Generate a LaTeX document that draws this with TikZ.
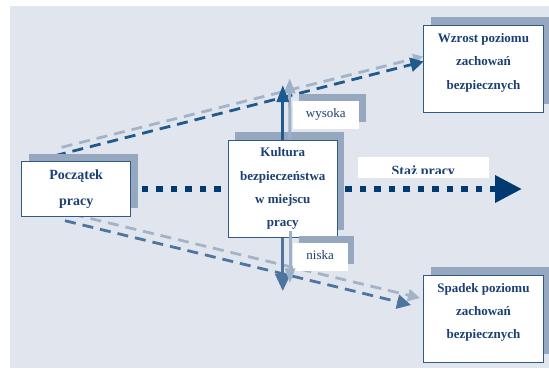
\documentclass[tikz,border=0pt]{standalone}
\usepackage{fontspec}
\setmainfont{Liberation Serif}
\usetikzlibrary{arrows.meta,shadows}
\definecolor{bgc}{HTML}{E1E6EE}
\definecolor{shc}{HTML}{95A8C0}
\definecolor{txc}{HTML}{1B3F73}
\definecolor{bdc}{HTML}{2E5A8A}
\definecolor{dotc}{HTML}{003A70}
\definecolor{darkc}{HTML}{1F5A8E}
\definecolor{medc}{HTML}{4E74A0}
\definecolor{lightc}{HTML}{A3B4C9}
\definecolor{lightarr}{HTML}{9CB0C8}
\tikzset{
  box/.style={draw=bdc, line width=0.9pt, fill=white, inner sep=0pt,
    general shadow={fill=shc, shadow xshift=7pt, shadow yshift=8pt}},
  boxtext/.style={text=txc, align=center, inner sep=0pt,
    font=\bfseries\fontsize{13}{23.3}\selectfont},
  tag/.style={fill=white, inner sep=0pt, text=txc,
    font=\fontsize{13}{15}\selectfont, text height=8.9pt, text depth=2.8pt},
  tagshadow/.style={general shadow={fill=shc, shadow xshift=6.7pt, shadow yshift=7pt}},
  dotline/.style={draw=dotc, line width=6.5pt, dash pattern=on 6.5pt off 8pt},
  dashline/.style={line width=2.8pt, dash pattern=on 11pt off 7pt},
}
\begin{document}
\begin{tikzpicture}[x=1pt,y=-1pt]
\useasboundingbox (0,0) rectangle (549,368);
\fill[bgc] (10,6) rectangle (549,368);

% dashed connectors (behind boxes)
\coordinate (ud0) at (55,155.7);
\coordinate (ul0) at (61.7,147.3);
\coordinate (ld0) at (65,220.7);
\coordinate (ll0) at (73,214.3);
\coordinate (ud1) at (423.5,61.5);
\coordinate (ul1) at (423,56.5);
\coordinate (ld1) at (411,305);
\coordinate (ll1) at (420,298);
\draw[dashline, draw=lightc, -{Triangle[length=10pt,width=10pt]}] (ul0) -- (ul1);
\draw[dashline, draw=darkc, -{Triangle[length=13pt,width=14pt]}] (ud0) -- (ud1);
\draw[dashline, draw=lightc, -{Triangle[length=12pt,width=12pt]}] (ll0) -- (ll1);
\draw[dashline, draw=medc, -{Triangle[length=14pt,width=14pt]}] (ld0) -- (ld1);

% boxes
\node[box, boxtext, minimum width=109pt, minimum height=54.3pt,
  font=\bfseries\fontsize{14}{26}\selectfont] (poc) at (76.2,188.85) {Początek\\pracy};
\node[box, boxtext, minimum width=109pt, minimum height=97.5pt] (kult) at (282.8,188.75)
  {Kultura\\bezpieczeństwa\\w miejscu\\pracy};
\node[box, minimum width=120pt, minimum height=86.7pt] (wzr) at (483.5,68.65) {};
\node[boxtext] (wzrt) at ([yshift=6pt]wzr.center) {Wzrost poziomu\\zachowań\\bezpiecznych};
\node[box, minimum width=120pt, minimum height=87pt] (spd) at (483.5,318.5) {};
\node[boxtext] (spdt) at ([yshift=6pt]spd.center) {Spadek poziomu\\zachowań\\bezpiecznych};

% tags
\node[tag, tagshadow, minimum width=66.2pt, minimum height=27.7pt] (wys) at (325.8,114.85) {wysoka};
\node[tag, tagshadow, minimum width=55pt, minimum height=28pt] (nis) at (320.2,256.7) {niska};

% vertical arrows
\coordinate (upL) at (289.7,78.3);
\coordinate (upD) at (282.8,85);
\coordinate (dnL) at (290,283.3);
\coordinate (dnD) at (282.8,291);
\coordinate (dnL0) at (290,230.7);
\draw[draw=lightarr, line width=3pt, -{Triangle[length=15pt,width=11pt]}]
  ([xshift=7pt]kult.north) -- (upL);
\draw[draw=darkc, line width=3pt, -{Triangle[length=17pt,width=12pt]}]
  (kult.north) -- (upD);
\draw[draw=medc, line width=3pt, -{Triangle[length=17pt,width=15pt]}]
  (kult.south) -- (dnD);
\draw[draw=lightarr, line width=3pt, -{Triangle[length=15pt,width=10pt]}]
  (dnL0) -- (dnL);

% main dotted axis
\coordinate (ax0) at (141.8,189);
\coordinate (ax1) at (221,189);
\coordinate (ax2) at (345,189);
\coordinate (ax3) at (522,189);
\draw[dotline] (ax0) -- (ax1);
\draw[dotline, -{Triangle[length=27pt,width=26pt]}] (ax2) -- (ax3);

% Staz pracy label
\node[fill=white, inner sep=0pt, minimum width=131pt, minimum height=21pt] (staz) at (423.3,167) {};
\begin{scope}
\clip (357.8,156.5) rectangle (488.8,173.3);
\node[text=txc, font=\bfseries\fontsize{14}{16}\selectfont, anchor=base, inner sep=0pt] (stazt)
  at (423.3,175.3) {Staż pracy};
\end{scope}
\end{tikzpicture}
\end{document}
